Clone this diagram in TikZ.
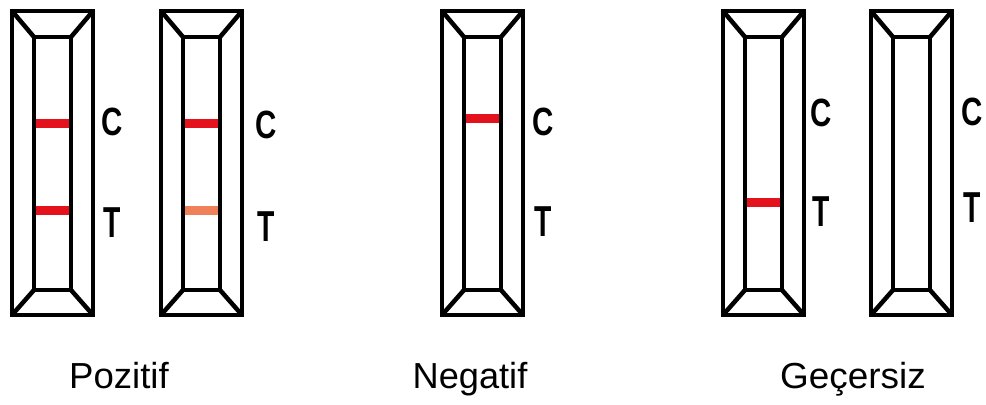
\documentclass[tikz,border=0pt]{standalone}
\usepackage{fontspec}
\setmainfont{Liberation Sans}
\usetikzlibrary{positioning}
\definecolor{bandred}{RGB}{228,18,28}
\definecolor{bandorange}{RGB}{240,128,88}

\begin{document}
\begin{tikzpicture}[x=0.025cm,y=-0.025cm,
    frame/.style={line width=3.2pt,line join=miter},
    band/.style={line width=6.4pt},
    ctlabel/.style={inner sep=0pt,font=\bfseries\fontsize{28}{28}\selectfont},
    result/.style={inner sep=0pt,anchor=base,font=\fontsize{25}{28}\selectfont}]
    \useasboundingbox (0,0) rectangle (986,404);
    % coloured lines (under the frames)
    \draw[band,bandred] (34,123)--(71,123); %C 1
    \draw[band,bandred] (34,210)--(71,210); %T 1
    \draw[band,bandred] (183,123)--(220,123); %C 2
    \draw[band,bandorange] (183,210)--(220,210); %T 2 (faint)
    \draw[band,bandred] (464,118)--(501,118); %C 3
    \draw[band,bandred] (745,202)--(782,202); %T 4
    % test strips
    \foreach \l in {12,161,442,723,871}{
        \draw[frame] (\l,11) rectangle (\l+81,315); %outer
        \draw[frame] (\l+22,37) rectangle (\l+59,290); %inner
        \draw[frame] (\l,11)--(\l+22,37) (\l+81,11)--(\l+59,37)
                     (\l,315)--(\l+22,290) (\l+81,315)--(\l+59,290);
    }
    % C / T marks
    \foreach \n/\x/\cy/\ty in {1/112/122/223, 2/266/125/227, 3/543/122/222, 4/821/113/212, 5/972/112/208}{
        \node[ctlabel] (c\n) at (\x,\cy) {\scalebox{0.75}[1]{C}};
        \node[ctlabel] (t\n) at (\x,\ty) {\scalebox{0.72}[1.1]{T}};
    }
    % results
    \node[result] (pozitif) at (119,388) {\scalebox{1.04}[1.03]{Pozitif}};
    \node[result] (negatif) at (470,388) {\scalebox{1.03}[1.03]{Negatif}};
    \node[result] (gecersiz) at (853,388) {\scalebox{1.05}[1.03]{Geçersiz}};
\end{tikzpicture}
\end{document}
